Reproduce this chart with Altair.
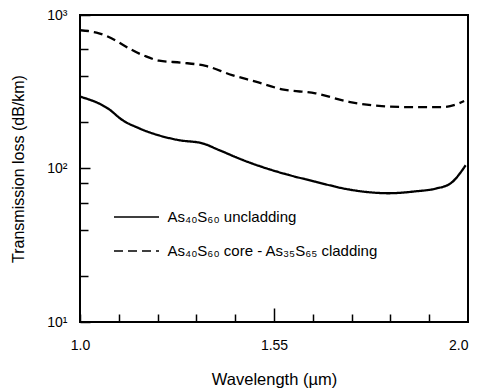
import altair as alt
import pandas as pd

# ---- data ----
series_names = ["As₄₀S₆₀ uncladding", "As₄₀S₆₀ core - As₃₅S₆₅ cladding"]

wl_uncladding = [1.0, 1.075, 1.109, 1.152, 1.255, 1.315, 1.358, 1.418, 1.487, 1.523,
                 1.607, 1.693, 1.796, 1.865, 1.917, 1.955, 1.994]
loss_uncladding = [294, 243, 207, 183, 153, 146, 132, 114, 99, 93,
                   82, 73, 69, 71, 74, 80, 105]

wl_cladding = [1.0, 1.049, 1.161, 1.204, 1.263, 1.324, 1.392, 1.453, 1.521, 1.607,
               1.693, 1.778, 1.865, 1.933, 1.972, 1.99]
loss_cladding = [798, 760, 549, 504, 489, 466, 406, 368, 328, 309,
                 272, 255, 251, 251, 263, 275]

x_tick_values = [1.0, 1.1, 1.2, 1.3, 1.4, 1.5, 1.6, 1.7, 1.8, 1.9, 2.0]
x_label_values = [1.0, 1.5, 2.0]
x_label_texts = ["1.0", "1.55", "2.0"]
x_major_tick = [1.5]

y_tick_values = [10, 20, 40, 60, 80, 100, 200, 400, 600, 800, 1000]
y_label_values = [10, 100, 1000]
y_label_texts = ["10¹", "10²", "10³"]

x_title = "Wavelength (µm)"
y_title = "Transmission loss (dB/km)"

# ---- build table ----
df = pd.concat([
    pd.DataFrame({"wl": wl_uncladding, "loss": loss_uncladding, "series": series_names[0]}),
    pd.DataFrame({"wl": wl_cladding, "loss": loss_cladding, "series": series_names[1]}),
], ignore_index=True)


def label_expr(values, texts):
    expr = "''"
    for v, t in reversed(list(zip(values, texts))):
        expr = f"abs(datum.value - {v}) < 1e-6 ? '{t}' : ({expr})"
    return expr


def in_list(values):
    return " || ".join(f"abs(datum.value - {v}) < 1e-6" for v in values)


W, H = 388, 307
FONT = "Liberation Sans"

x_scale = alt.Scale(domain=[1.0, 2.0], nice=False, zero=False)
y_scale = alt.Scale(type="log", domain=[10, 1000], nice=False)
dash_scale = alt.Scale(domain=series_names, range=[[1, 0], [9, 5]])

legend = alt.Legend(
    orient="none", legendX=40.5, legendY=186, title=None,
    symbolType="M-1.5,0H1.5", symbolSize=900,
    symbolStrokeColor="black", symbolStrokeWidth=1.6,
    labelFont=FONT, labelFontSize=15, labelColor="black",
    labelOffset=15, rowPadding=10, padding=0, labelLimit=0,
)

base = alt.Chart(df)

main = base.transform_filter(
    alt.datum.series == series_names[0]
).mark_line(color="black", strokeWidth=2.3, interpolate="monotone").encode(
    x=alt.X("wl:Q", scale=x_scale, axis=alt.Axis(
        orient="bottom", values=x_label_values, labelExpr=label_expr(x_label_values, x_label_texts),
        ticks=False, domain=False, grid=False, labelPadding=16, labelFlush=False,
        labelAlign={"condition": {"test": in_list([x_label_values[-1]]), "value": "right"},
                    "value": "center"},
        labelFont=FONT, labelFontSize=14, labelColor="black",
        title=x_title, titleFont=FONT, titleFontSize=16.5, titleFontWeight="normal",
        titleColor="black", titlePadding=19)),
    y=alt.Y("loss:Q", scale=y_scale, axis=alt.Axis(
        orient="left", values=y_label_values, labelExpr=label_expr(y_label_values, y_label_texts),
        ticks=False, domain=False, grid=False, labelPadding=13, labelFlush=False,
        labelFont=FONT, labelFontSize=14, labelColor="black",
        title=y_title, titleFont=FONT, titleFontSize=16, titleFontWeight="normal",
        titleColor="black", titlePadding=20)),
    strokeDash=alt.StrokeDash("series:N", scale=dash_scale, legend=legend),
)

inner = base.transform_filter(
    alt.datum.series == series_names[1]
).mark_line(color="black", strokeWidth=2.3, interpolate="monotone").encode(
    x=alt.X("wl:Q", scale=x_scale, axis=alt.Axis(
        orient="top", offset=-H, values=x_tick_values, labels=False, domain=False,
        grid=False, title=None, tickColor="black", tickWidth=1.5,
        tickSize={"condition": {"test": in_list(x_major_tick), "value": 14}, "value": 8})),
    y=alt.Y("loss:Q", scale=y_scale, axis=alt.Axis(
        orient="right", offset=-W, values=y_tick_values, labels=False, domain=False,
        grid=False, title=None, tickColor="black", tickWidth=1.5,
        tickSize={"condition": {"test": in_list(y_label_values), "value": 10}, "value": 8})),
    strokeDash=alt.StrokeDash("series:N", scale=dash_scale, legend=legend),
)

chart = alt.layer(main, inner).resolve_axis(
    x="independent", y="independent"
).properties(
    width=W, height=H,
    padding={"left": 72, "top": 7, "right": 1, "bottom": 69},
    autosize=alt.AutoSizeParams(type="none"),
    background="white",
).configure_view(
    stroke="black", strokeWidth=2
)

chart.save("out.html", embed_options={"renderer": "svg", "actions": False})
